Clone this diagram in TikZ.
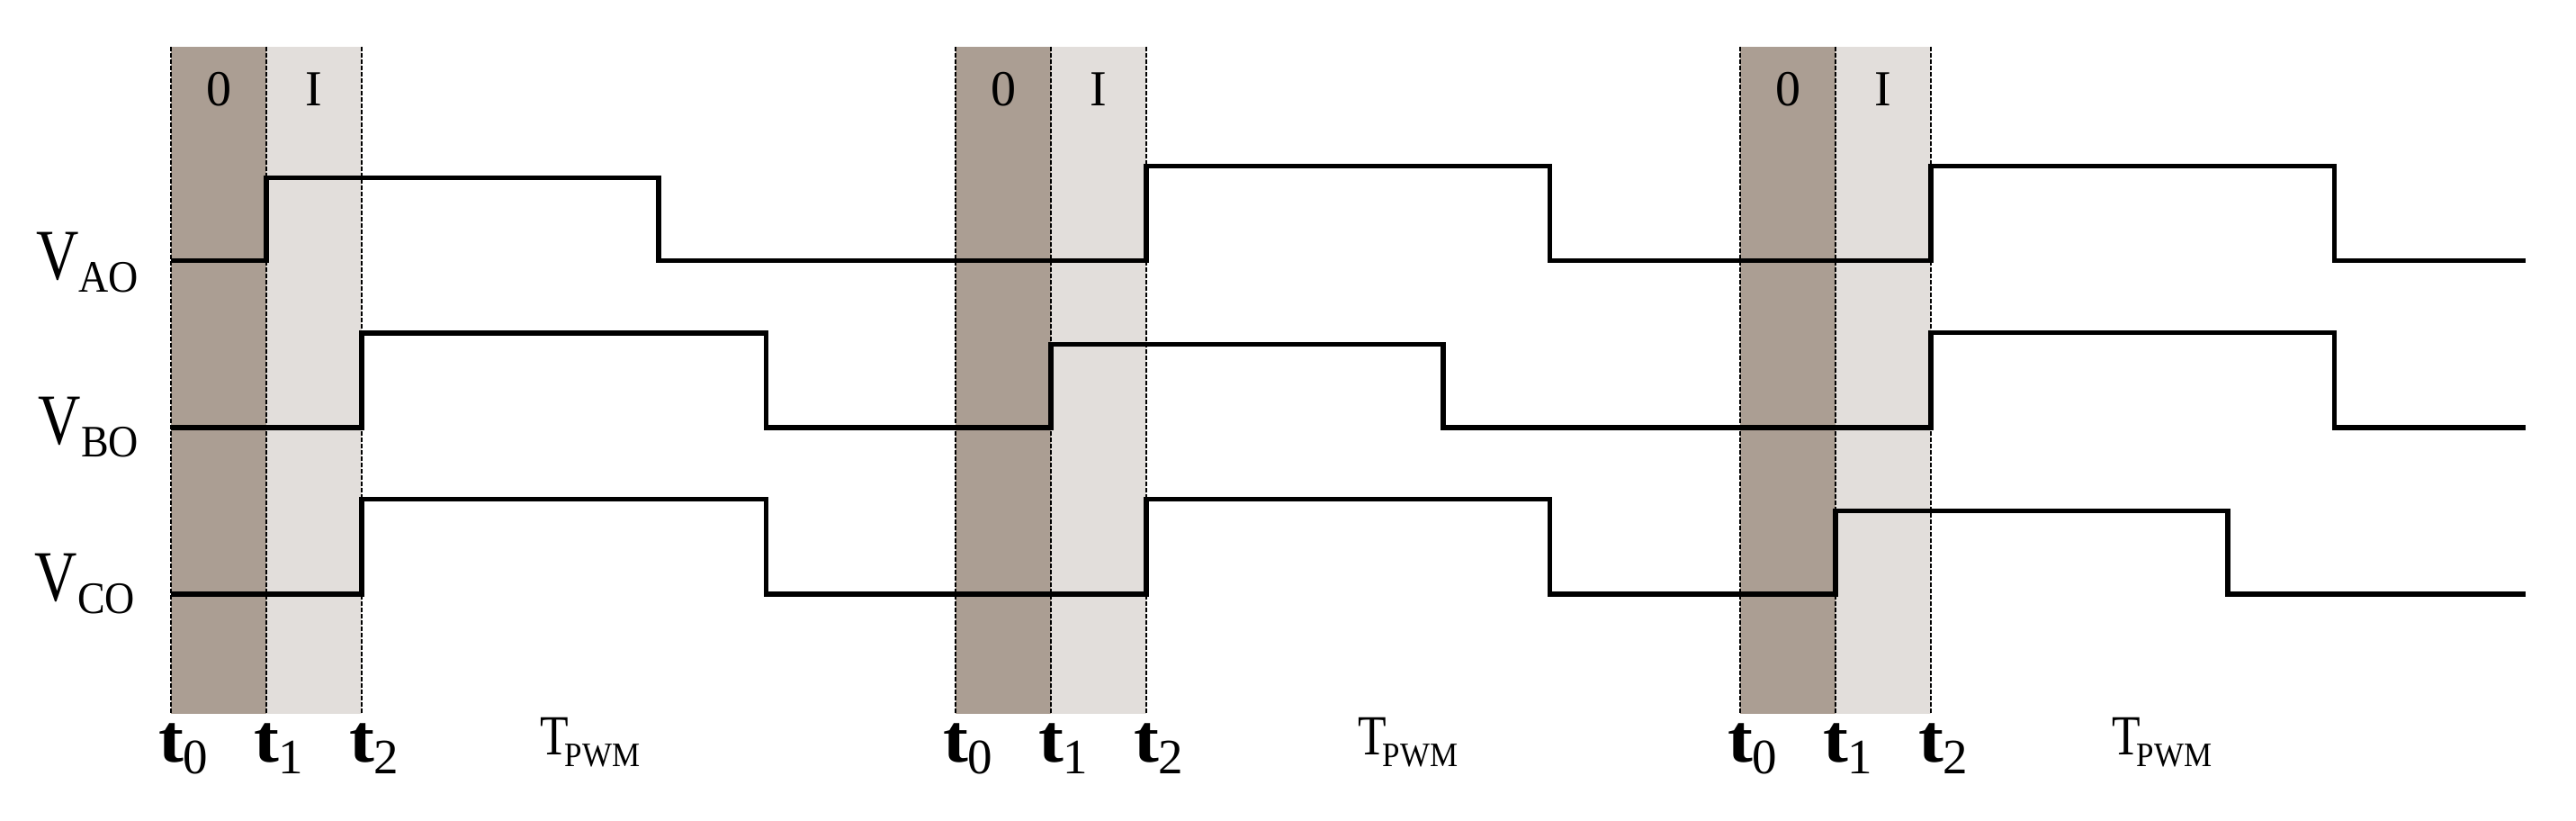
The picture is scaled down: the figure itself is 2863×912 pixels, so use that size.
\documentclass[tikz,border=0pt]{standalone}
\usepackage{graphicx}
\usepackage{fontspec}
\setmainfont{Liberation Serif}
\definecolor{zerofill}{HTML}{AB9E93}
\definecolor{onefill}{HTML}{E2DEDB}
\tikzset{
  wave/.style={line width=5.2pt, line join=miter, black},
  edgeline/.style={line width=1.3pt, black, dash pattern=on 5pt off 2pt},
  lbl/.style={inner sep=0pt, outer sep=0pt},
}
\newcommand{\Vlab}[1]{\scalebox{0.82}[1]{\fontsize{80}{80}\selectfont V}\raisebox{-14pt}{\scalebox{0.92}[1]{\fontsize{50}{50}\selectfont #1}}}
\newcommand{\tlab}[1]{\scalebox{1.1}[1]{\fontsize{76}{76}\selectfont\bfseries t}\raisebox{-13pt}{\fontsize{55}{55}\selectfont #1}}
\newcommand{\Tpwm}{\scalebox{0.82}[1]{\fontsize{63}{63}\selectfont T}\kern-4pt\raisebox{-13.4pt}{\scalebox{0.92}[1]{\fontsize{38}{38}\selectfont PWM}}}
\begin{document}
\begin{tikzpicture}[x=1pt,y=-1pt]
\useasboundingbox (0,0) rectangle (2863,912);
% bands
\foreach \s/\n in {190/a,1062/b,1934/c}{
  \fill[zerofill] (\s,52) rectangle (\s+106,792.5);
  \fill[onefill] (\s+106,52) rectangle (\s+212,792.5);
  \draw[edgeline] (\s,52) -- (\s,792.5);
  \draw[edgeline] (\s+106,52) -- (\s+106,792.5);
  \draw[edgeline] (\s+212,52) -- (\s+212,792.5);
  \node[lbl, font=\fontsize{56}{56}\selectfont] (zero\n) at (\s+53,99.5) {0};
  \node[lbl, font=\fontsize{56}{56}\selectfont] (one\n) at (\s+159,99.5) {I};
  \node[lbl, anchor=base west] (tz\n) at (\s-14,846.7) {\tlab{0}};
  \node[lbl, anchor=base west] (to\n) at (\s+92,846.7) {\tlab{1}};
  \node[lbl, anchor=base west] (tt\n) at (\s+198,846.7) {\tlab{2}};
}
% waveforms
\draw[wave] (190,289.5) -- (296,289.5) -- (296,197.5) -- (732,197.5) -- (732,289.5)
  -- (1274,289.5) -- (1274,184.4) -- (1722.3,184.4) -- (1722.3,289.5)
  -- (2146,289.5) -- (2146,184.4) -- (2594.5,184.4) -- (2594.5,289.5) -- (2806.5,289.5);
\draw[wave] (190,475) -- (402,475) -- (402,370) -- (851.5,370) -- (851.5,475)
  -- (1168,475) -- (1168,382.5) -- (1604,382.5) -- (1604,475)
  -- (2146,475) -- (2146,369.6) -- (2594.5,369.6) -- (2594.5,475) -- (2806.5,475);
\draw[wave] (190,660) -- (402,660) -- (402,554.4) -- (851.5,554.4) -- (851.5,660)
  -- (1274,660) -- (1274,554.4) -- (1722.3,554.4) -- (1722.3,660)
  -- (2040,660) -- (2040,567.4) -- (2476,567.4) -- (2476,660) -- (2806.5,660);
% signal labels
\node[lbl, anchor=base east] (vao) at (154,310) {\Vlab{AO}};
\node[lbl, anchor=base east] (vbo) at (154,493.3) {\Vlab{BO}};
\node[lbl, anchor=base east] (vco) at (150,667.3) {\Vlab{CO}};
% period labels
\node[lbl, anchor=base west] (tpa) at (600,838.3) {\Tpwm};
\node[lbl, anchor=base west] (tpb) at (1509,838.3) {\Tpwm};
\node[lbl, anchor=base west] (tpc) at (2347,838.3) {\Tpwm};
\end{tikzpicture}
\end{document}
